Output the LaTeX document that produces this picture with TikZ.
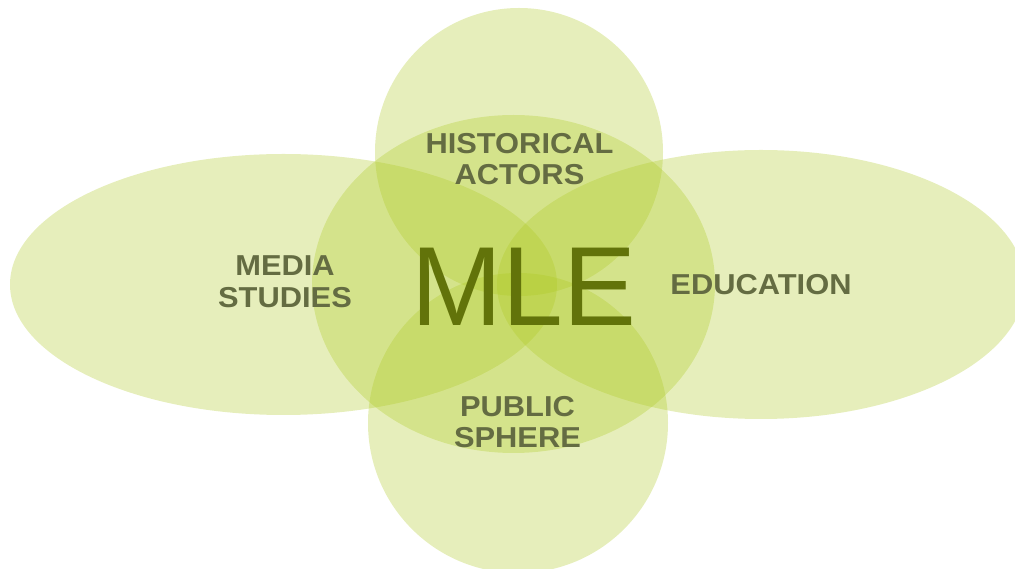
\documentclass[tikz,border=0pt]{standalone}
\usepackage{fontspec}
\setmainfont{Liberation Sans}
\usetikzlibrary{positioning}
\definecolor{petalgreen}{RGB}{172,200,30}
\definecolor{labelolive}{RGB}{100,108,66}
\definecolor{mleolive}{RGB}{98,115,10}
\tikzset{
    petal/.style={fill=petalgreen, fill opacity=0.3},
    topic/.style={align=center, text=labelolive, font=\fontsize{20.5pt}{22.6pt}\selectfont\bfseries, inner sep=0pt, xscale=1.07, transform shape},
    core/.style={text=mleolive, font=\fontsize{80pt}{90pt}\selectfont, inner sep=0pt, xscale=0.97, transform shape},
}

\begin{document}
\begin{tikzpicture}[x=0.025cm, y=-0.025cm]

\useasboundingbox (0,0) rectangle (1015,569);
\clip (0,0) rectangle (1015,569);

% petals
\fill[petal] (283.5,284.5) ellipse [x radius=273.5, y radius=130.5];
\fill[petal] (761,284.5) ellipse [x radius=264, y radius=134.5];
\fill[petal] (519,152) circle [radius=144];
\fill[petal] (518,423) circle [radius=150];
\fill[petal] (513.5,284) ellipse [x radius=201.5, y radius=169];

% labels
\node[core] (mle) at (524,287) {MLE};
\node[topic] (actors) at (519.5,159) {HISTORICAL\\ACTORS};
\node[topic] (media) at (285,281.5) {MEDIA\\STUDIES};
\node[topic] (education) at (761,284.5) {EDUCATION};
\node[topic] (public) at (517.5,422) {PUBLIC\\SPHERE};

\end{tikzpicture}
\end{document}
